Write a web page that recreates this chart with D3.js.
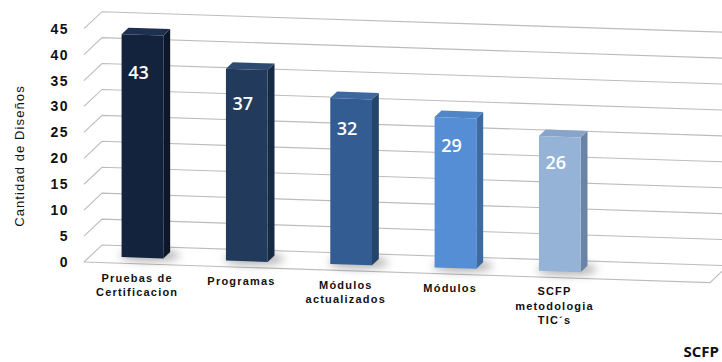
<!DOCTYPE html>
<html>
<head>
<meta charset="utf-8">
<script src="https://cdn.jsdelivr.net/npm/d3@7"></script>
<style>
  html, body { margin: 0; padding: 0; background: #ffffff; }
  svg { display: block; }
</style>
</head>
<body>
<svg id="chart" width="722" height="362"></svg>
<script>
// Chart data
const categories = ["Pruebas de Certificacion", "Programas", "Módulos actualizados", "Módulos", "SCFP metodologia TIC´s"];
const categoryLines = [["Pruebas de", "Certificacion"], ["Programas"], ["Módulos", "actualizados"], ["Módulos"], ["SCFP", "metodologia", "TIC´s"]];
const values = [43, 37, 32, 29, 26];
const tickValues = [0, 5, 10, 15, 20, 25, 30, 35, 40, 45];
const axisTitle = "Cantidad de Diseños";
const footerText = "SCFP";

// Face colours per bar: front, side, top
const frontColors = ["#13223d", "#223b5d", "#335d92", "#558ed5", "#95b3d7"];
const sideColors  = ["#0c172a", "#172a44", "#24446c", "#3b6aa5", "#6a84a6"];
const topColors   = ["#1d3050", "#2d4a70", "#3e68a0", "#4f86c8", "#87a4ca"];

const svg = d3.select("#chart");

// Oblique projection of the 3D plot box
const FLOOR_X0 = 84, FLOOR_X1 = 710;
const SLOPE = 0.033;          // horizontal tilt of the box
const DX = 18, DY = -17;      // depth offset from front plane to back wall
const Z_FRONT = 0.35, Z_BACK = 0.73;   // bar depth within the box
const SLOTS = 6;

const x = d3.scaleBand()
  .domain(d3.range(SLOTS))
  .range([FLOOR_X0, FLOOR_X1])
  .paddingInner(0.6)
  .paddingOuter(0.3);

const y = d3.scaleLinear().domain([0, 45]).range([262, 28.7]);

function P(px, v, z) {
  return [px + z * DX, y(v) + SLOPE * (px - FLOOR_X0) + z * DY];
}

const grid = svg.append("g").attr("fill", "none").attr("stroke", "#bcbcbc").attr("stroke-width", 1.1);

// Side wall and back wall gridlines
tickValues.forEach(v => {
  const a = P(FLOOR_X0, v, 0), b = P(FLOOR_X0, v, 1), c = P(FLOOR_X1 + 20, v, 1);
  grid.append("path").attr("d", d3.line()([a, b, c]));
});

// Floor outline
grid.append("path").attr("d", d3.line()([
  P(FLOOR_X0, 0, 0), P(FLOOR_X1, 0, 0), P(FLOOR_X1, 0, 1)
]));

// Soft shadows under bars
const defs = svg.append("defs");
defs.append("filter").attr("id", "soft").attr("x", "-50%").attr("y", "-100%").attr("width", "200%").attr("height", "300%")
  .append("feGaussianBlur").attr("stdDeviation", 4);

const shadows = svg.append("g").attr("filter", "url(#soft)");
values.forEach((v, i) => {
  const x0 = x(i), w = x.bandwidth();
  const base = P(x0 + w / 2, 0, (Z_FRONT + Z_BACK) / 2);
  shadows.append("ellipse")
    .attr("cx", base[0] + 4).attr("cy", base[1] + 1)
    .attr("rx", w * 0.72).attr("ry", 6)
    .attr("fill", "#000").attr("opacity", 0.3);
});

// Bars as prisms
const bars = svg.append("g");
values.forEach((v, i) => {
  const x0 = x(i), x1 = x(i) + x.bandwidth();
  const g = bars.append("g");
  const poly = pts => pts.map(p => p.join(",")).join(" ");
  // side face
  g.append("polygon").attr("points", poly([
    P(x1, 0, Z_FRONT), P(x1, 0, Z_BACK), P(x1, v, Z_BACK), P(x1, v, Z_FRONT)
  ])).attr("fill", sideColors[i]);
  // top face
  g.append("polygon").attr("points", poly([
    P(x0, v, Z_FRONT), P(x1, v, Z_FRONT), P(x1, v, Z_BACK), P(x0, v, Z_BACK)
  ])).attr("fill", topColors[i]);
  // front face
  g.append("polygon").attr("points", poly([
    P(x0, 0, Z_FRONT), P(x1, 0, Z_FRONT), P(x1, v, Z_FRONT), P(x0, v, Z_FRONT)
  ])).attr("fill", frontColors[i]);

  // value label inside the bar
  const top = P(x0 + x.bandwidth() / 2, v, Z_FRONT);
  const bottom = P(x0 + x.bandwidth() / 2, 0, Z_FRONT);
  const h = bottom[1] - top[1];
  g.append("text")
    .attr("x", top[0] - 4)
    .attr("y", top[1] + 7 + 0.14 * h)
    .attr("dy", "0.35em")
    .attr("text-anchor", "middle")
    .attr("fill", "#ffffff")
    .style("font-family", "'Open Sans', sans-serif")
    .style("font-weight", 600)
    .style("font-size", "18px")
    .text(v);
});

// Value axis
const axis = svg.append("g")
  .attr("transform", "translate(69,0)")
  .call(d3.axisLeft(y).tickValues(tickValues).tickSize(0).tickPadding(0));
axis.select(".domain").remove();
axis.selectAll("text")
  .attr("fill", "#111111")
  .style("font-family", "'Liberation Sans', Arial, sans-serif")
  .style("font-weight", "bold")
  .style("font-size", "14px")
  .style("letter-spacing", "1.5px");

// Axis title
svg.append("text")
  .attr("transform", "translate(24,156) rotate(-90)")
  .attr("text-anchor", "middle")
  .attr("fill", "#111111")
  .style("font-family", "'Liberation Sans', Arial, sans-serif")
  .style("font-size", "13px")
  .style("letter-spacing", "1.1px")
  .text(axisTitle);

// Category labels
const catG = svg.append("g");
categoryLines.forEach((lines, i) => {
  const cx = x(i) + x.bandwidth() / 2;
  const base = P(cx, 0, 0);
  const t = catG.append("text")
    .attr("text-anchor", "middle")
    .attr("fill", "#111111")
    .style("font-family", "'Liberation Sans', Arial, sans-serif")
    .style("font-weight", "bold")
    .style("font-size", "11px")
    .style("letter-spacing", "1.2px");
  lines.forEach((ln, j) => {
    t.append("tspan")
      .attr("x", base[0] + 1)
      .attr("y", base[1] + 18 + j * 14.5)
      .text(ln);
  });
});

// Footer text at the lower right edge
svg.append("text")
  .attr("x", 719).attr("y", 357)
  .attr("text-anchor", "end")
  .attr("fill", "#111111")
  .style("font-family", "'Open Sans', sans-serif")
  .style("font-weight", "bold")
  .style("font-size", "15px")
  .text(footerText);
</script>
</body>
</html>
